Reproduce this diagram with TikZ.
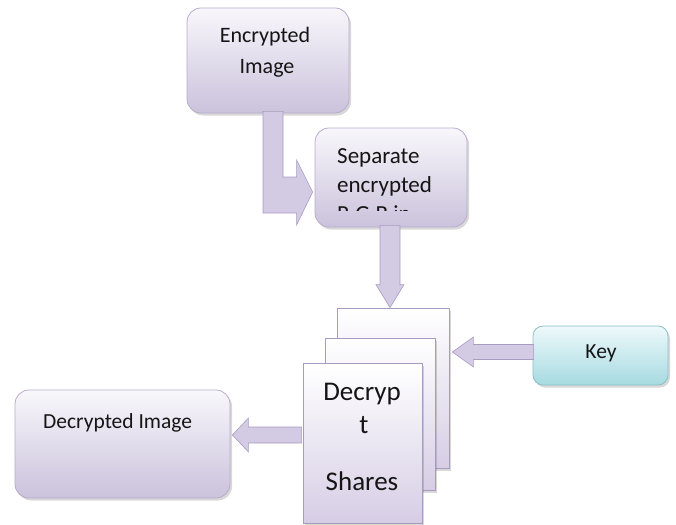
\documentclass[tikz,border=0pt]{standalone}
\usepackage{fontspec}
\setmainfont{Carlito}
\usetikzlibrary{calc,shadows}

\definecolor{boxtop}{HTML}{F8F7FB}
\definecolor{boxbot}{HTML}{CBC2DC}
\definecolor{boxline}{HTML}{B7ADCB}
\definecolor{keytop}{HTML}{EEF9FB}
\definecolor{keybot}{HTML}{A6DAE1}
\definecolor{keyline}{HTML}{8CC0C8}
\definecolor{arrfill}{HTML}{D3CAE3}
\definecolor{arrline}{HTML}{A89CC1}
\definecolor{pageline}{HTML}{A69CBF}
\definecolor{pagebot}{HTML}{D6CDE5}
\definecolor{inktext}{HTML}{151515}

\begin{document}
\begin{tikzpicture}[x=1pt,y=-1pt,
  softshadow/.style={drop shadow={shadow xshift=2pt,shadow yshift=-2.5pt,opacity=0.22,fill=black!70}},
  roundbox/.style={draw=boxline,line width=0.8pt,rounded corners=14pt,
    top color=boxtop,bottom color=boxbot,softshadow,inner sep=0pt},
  keybox/.style={roundbox,draw=keyline,top color=keytop,bottom color=keybot,rounded corners=10pt},
  sharepage/.style={draw=pageline,line width=0.8pt,top color=white,bottom color=pagebot,
    inner sep=0pt,softshadow},
  blockarrow/.style={draw=arrline,fill=arrfill,line width=0.6pt,line join=miter},
  txt/.style={text=inktext,inner sep=0pt,anchor=base},
  txtA/.style={txt,font=\fontsize{22}{26}\selectfont},
  txtB/.style={txt,font=\fontsize{23}{27}\selectfont,anchor=base west},
  txtC/.style={txt,font=\fontsize{27}{31}\selectfont},
  txtD/.style={txt,font=\fontsize{21.5}{25}\selectfont},
]
\useasboundingbox (0,0) rectangle (676,524);

% boxes
\node[roundbox,minimum width=162pt,minimum height=105pt] (enc) at (268,60.5) {};
\node[roundbox,minimum width=152pt,minimum height=99pt] (sep) at (391,177.5) {};
\node[keybox,minimum width=135pt,minimum height=59pt] (key) at (600.5,355.5) {};
\node[roundbox,minimum width=215pt,minimum height=108pt] (dec) at (122.5,444) {};

% stack of share pages, back to front
\node[sharepage,minimum width=112pt,minimum height=160pt] (back) at (393,388) {};
\node[sharepage,minimum width=110pt,minimum height=152pt] (mid) at (380,414) {};
\node[sharepage,minimum width=119pt,minimum height=160pt] (front) at (362.5,443.5) {};

% labels
\node[txtA] (encL1) at (265,43) {Encrypted};
\node[txtA] (encL2) at (267,74) {Image};
\node[txtB] (sepL1) at (337,163) {Separate};
\node[txtB] (sepL2) at (337,192) {encrypted};
\begin{scope}
  % third line is cut off by the box's text area
  \clip (318,130) rectangle (465,210.5);
  \node[txtB] (sepL3) at (337,221) {R,G,B in};
\end{scope}
\node[txtC] (frL1) at (362,400) {Decryp};
\node[txtC] (frL2) at (364,433) {t};
\node[txtC] (frL3) at (362,490) {Shares};
\node[txtD] (keyL) at (601,358) {Key};
\node[txtD,anchor=base west] (decL) at (43,428) {Decrypted Image};

% bent arrow: encrypted image -> separation step
\coordinate (bTop) at ($(enc.south)+(-5,-2)$);
\coordinate (bTip) at ($(sep.west)+(-2,14.5)$);
\path[blockarrow] let \p1=(bTop), \p2=(bTip) in
  (\x1,\y1) -- (\x1,{\y2-21pt}) -- ({\x2-16pt},{\y2-21pt}) -- ({\x2-16pt},{\y2-33pt})
  -- (\x2,\y2) -- ({\x2-16pt},{\y2+32pt}) -- ({\x2-16pt},{\y2+15pt})
  -- ({\x1+20pt},{\y2+15pt}) -- ({\x1+20pt},\y1) -- cycle;

% separation step -> shares
\coordinate (dTop) at ($(sep.south)+(-1,-2)$);
\coordinate (dTip) at (dTop |- back.north);
\path[blockarrow] let \p1=(dTop), \p2=(dTip) in
  ({\x1-10pt},\y1) -- ({\x1-10pt},{\y2+23pt}) -- ({\x1-14pt},{\y2+23pt}) -- (\x2,\y2)
  -- ({\x1+14pt},{\y2+23pt}) -- ({\x1+10pt},{\y2+23pt}) -- ({\x1+10pt},\y1) -- cycle;

% key -> shares
\coordinate (kStart) at ($(key.west)+(1,-3.5)$);
\coordinate (kTip) at ($(back.east |- kStart)+(3,0)$);
\path[blockarrow] let \p1=(kStart), \p2=(kTip) in
  (\x1,{\y1+7.5pt}) -- ({\x2+21pt},{\y1+7.5pt}) -- ({\x2+21pt},{\y1+15pt}) -- (\x2,\y1)
  -- ({\x2+21pt},{\y1-15pt}) -- ({\x2+21pt},{\y1-7.5pt}) -- (\x1,{\y1-7.5pt}) -- cycle;

% shares -> decrypted image
\coordinate (lStart) at ($(front.west)+(-1,-8.5)$);
\coordinate (lTip) at ($(dec.east |- lStart)+(2,0)$);
\path[blockarrow] let \p1=(lStart), \p2=(lTip) in
  (\x1,{\y1+8pt}) -- ({\x2+16pt},{\y1+8pt}) -- ({\x2+16pt},{\y1+17pt}) -- (\x2,\y1)
  -- ({\x2+16pt},{\y1-17pt}) -- ({\x2+16pt},{\y1-8pt}) -- (\x1,{\y1-8pt}) -- cycle;
\end{tikzpicture}
\end{document}
